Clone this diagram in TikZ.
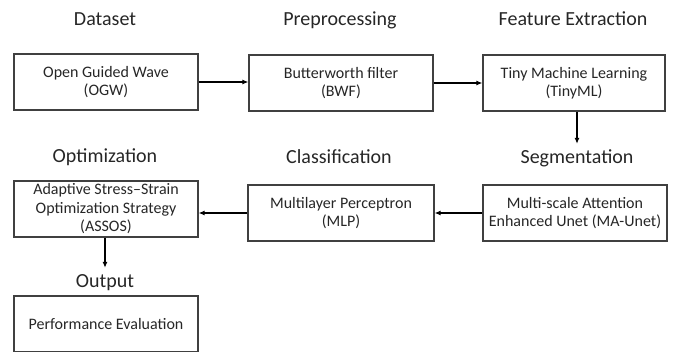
\documentclass[tikz,border=0pt]{standalone}
\usepackage{fontspec}
\setmainfont{Carlito}
\usetikzlibrary{arrows.meta,positioning}
\definecolor{boxline}{HTML}{404040}
\definecolor{boxtext}{HTML}{262626}
\tikzset{
    stage/.style={draw=boxline, line width=1.3pt, minimum width=184pt, minimum height=56pt,
                  align=center, text=boxtext, font=\fontsize{16}{18.5}\selectfont, inner sep=2pt},
    title/.style={font=\fontsize{20}{23}\selectfont, text=black!85, inner sep=5pt,
                  text height=14pt, text depth=4pt, anchor=base},
    flow/.style={line width=1.1pt, -{Latex[length=6pt,width=5pt]}},
}
\begin{document}
\begin{tikzpicture}[x=1pt,y=-1pt]
    \useasboundingbox (0,0) rectangle (674,351);
    \clip (0,0) rectangle (674,351);

    % Titles
    \node[title] (tdata) at (105,25) {Dataset};
    \node[title] (tpre)  at (340,25) {Preprocessing};
    \node[title] (tfeat) at (573,25) {Feature Extraction};
    \node[title] (tseg)  at (577,163) {Segmentation};
    \node[title] (tcls)  at (339,163) {Classification};
    \node[title] (topt)  at (105,162) {Optimization};
    \node[title] (tout)  at (105,287) {Output};

    % Stages
    \node[stage] (ogw)    at (106,82)  {Open Guided Wave\\(OGW)};
    \node[stage] (bwf)    at (341,83)  {Butterworth filter\\(BWF)};
    \node[stage, minimum width=182pt] (tinyml) at (574,83) {Tiny Machine Learning\\(TinyML)};
    \node[stage] (maunet) at (575,213) {Multi-scale Attention\\Enhanced Unet (MA-Unet)};
    \node[stage, minimum width=186pt] (mlp) at (341,213) {Multilayer Perceptron\\(MLP)};
    \node[stage] (assos)  at (106,209) {Adaptive Stress--Strain\\Optimization Strategy\\(ASSOS)};
    \node[stage] (perf)   at (106,324) {Performance Evaluation};

    % Connectors
    \draw[flow] (ogw.east) -- (ogw.east -| bwf.west);
    \draw[flow] (bwf.east) -- (tinyml.west);
    \draw[flow] (tinyml.south -| tseg.north) -- (tseg.north);
    \draw[flow] (maunet.west) -- (mlp.east);
    \draw[flow] (mlp.west) -- (mlp.west -| assos.east);
    \draw[flow] (assos.south -| tout.north) -- (tout.north);
\end{tikzpicture}
\end{document}
